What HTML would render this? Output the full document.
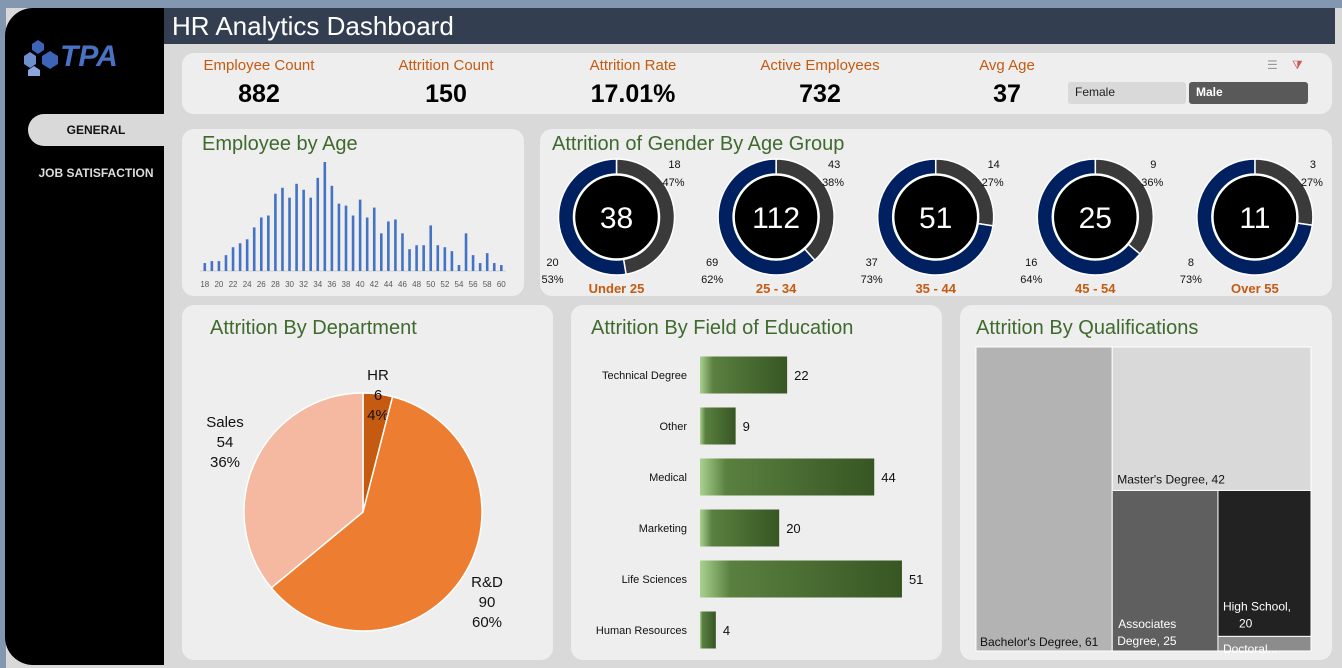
<!DOCTYPE html>
<html><head><meta charset="utf-8"><style>
*{box-sizing:border-box;margin:0;padding:0}
body{width:1342px;height:668px;overflow:hidden;background:#d9d9d9;font-family:"Liberation Sans",sans-serif;position:relative}
.abs{position:absolute}
.panel{position:absolute;background:#eeeeee;border-radius:12px}
.title{position:absolute;color:#3f6a2e;font-size:20px}
.kl{position:absolute;color:#c55a11;font-size:15px;text-align:center;width:170px}
.kv{position:absolute;color:#000;font-size:25px;font-weight:bold;text-align:center;width:170px}
</style></head><body>
<div class="abs" style="left:0;top:0;width:1342px;height:8px;background:#8497b0"></div>
<div class="abs" style="left:0;top:0;width:6px;height:668px;background:#8497b0"></div>
<div class="abs" style="left:5px;top:8px;width:159px;height:657px;background:#000;border-radius:28px 0 0 28px"></div>
<svg class="abs" style="left:20px;top:36px" width="130" height="40">
<polygon points="4,20 10,16 16,20 16,28 10,32 4,28" fill="#6f8fd0"/><polygon points="12,8 18,4 24,8 24,14 18,18 12,14" fill="#3d64b8"/><polygon points="22,20 30,15 38,20 38,28 30,33 22,28" fill="#3d64b8"/><polygon points="8,34 14,30 20,34 20,40 14,44 8,40" fill="#8aa5dd"/>
<text x="40" y="30" font-family="Liberation Sans" font-weight="bold" font-size="30" fill="#4a72c4" font-style="italic">TPA</text></svg>
<div class="abs" style="left:28px;top:114px;width:136px;height:32px;background:#d9d9d9;border-radius:16px 0 0 16px;font-size:12px;font-weight:bold;text-align:center;line-height:32px;color:#111">GENERAL</div>
<div class="abs" style="left:28px;top:166px;width:136px;font-size:12px;font-weight:bold;color:#ddd;text-align:center">JOB SATISFACTION</div>
<div class="abs" style="left:164px;top:8px;width:1171px;height:36px;background:#333f50;color:#fff;font-size:26px;padding-left:8px;line-height:36px">HR Analytics Dashboard</div>

<div class="panel" style="left:182px;top:53px;width:1150px;height:61px"></div>
<div class="kl" style="left:174px;top:57px">Employee Count</div>
<div class="kv" style="left:174px;top:80px">882</div>
<div class="kl" style="left:361px;top:57px">Attrition Count</div>
<div class="kv" style="left:361px;top:80px">150</div>
<div class="kl" style="left:548px;top:57px">Attrition Rate</div>
<div class="kv" style="left:548px;top:80px">17.01%</div>
<div class="kl" style="left:735px;top:57px">Active Employees</div>
<div class="kv" style="left:735px;top:80px">732</div>
<div class="kl" style="left:922px;top:57px">Avg Age</div>
<div class="kv" style="left:922px;top:80px">37</div>
<div class="abs" style="left:1267px;top:58px;font-size:12px;color:#999">☰</div>
<div class="abs" style="left:1292px;top:58px;font-size:12px;color:#c55">⧩</div>
<div class="abs" style="left:1068px;top:82px;width:118px;height:22px;background:#d9d9d9;border-radius:3px;font-size:12px;padding:3px 7px;color:#222">Female</div>
<div class="abs" style="left:1189px;top:82px;width:119px;height:22px;background:#595959;border-radius:3px;font-size:12px;font-weight:bold;padding:3px 7px;color:#fff">Male</div>

<div class="panel" style="left:182px;top:129px;width:342px;height:167px"></div>
<div class="title" style="left:202px;top:133px">Employee by Age</div>
<svg class="abs" id="ageSvg" style="left:182px;top:129px" width="342" height="167"></svg>

<div class="panel" style="left:540px;top:129px;width:792px;height:167px"></div>
<div class="title" style="left:552px;top:133px">Attrition of Gender By Age Group</div>
<svg class="abs" id="donutSvg" style="left:540px;top:129px" width="792" height="167"></svg>

<div class="panel" style="left:182px;top:305px;width:371px;height:355px"></div>
<div class="title" style="left:210px;top:317px">Attrition By Department</div>
<svg class="abs" id="pieSvg" style="left:182px;top:305px" width="371" height="355"></svg>

<div class="panel" style="left:571px;top:305px;width:371px;height:355px"></div>
<div class="title" style="left:591px;top:317px">Attrition By Field of Education</div>
<svg class="abs" id="eduSvg" style="left:571px;top:305px" width="371" height="355">
<defs><linearGradient id="gg" x1="0" x2="1" y1="0" y2="0"><stop offset="0" stop-color="#a9d18e"/><stop offset="0.15" stop-color="#5a8040"/><stop offset="1" stop-color="#375623"/></linearGradient></defs></svg>

<div class="panel" style="left:960px;top:305px;width:372px;height:355px"></div>
<div class="title" style="left:976px;top:317px">Attrition By Qualifications</div>
<svg class="abs" id="treeSvg" style="left:960px;top:305px" width="372" height="355"></svg>

<script>
const NS='http://www.w3.org/2000/svg';
function mk(p,t,a){const e=document.createElementNS(NS,t);for(const k in a)e.setAttribute(k,a[k]);p.appendChild(e);return e;}
// ---- age chart ----
const ages=[18,19,20,21,22,23,24,25,26,27,28,29,30,31,32,33,34,35,36,37,38,39,40,41,42,43,44,45,46,47,48,49,50,51,52,53,54,55,56,57,58,59,60];
const ageCounts=[4,5,5,8,12,14,16,22,27,28,39,42,37,44,41,37,47,55,43,34,33,28,36,27,32,19,25,26,19,11,13,13,23,13,12,10,3,19,8,4,9,4,3];
const ageTicks=[18,20,22,24,26,28,30,32,34,36,38,40,42,44,46,48,50,52,54,56,58,60];
(function(){const s=document.getElementById('ageSvg');
const x=a=>22.8+(a-18)*7.06, y=v=>142-v*(109/55);
mk(s,'line',{x1:18,x2:324,y1:142,y2:142,stroke:'#d0d0d0'});
ages.forEach((a,i)=>{const r=mk(s,'rect',{x:x(a)-1.3,y:y(ageCounts[i]),width:2.6,height:142-y(ageCounts[i]),fill:'#4472c4'});

});
ageTicks.forEach(a=>{const t=mk(s,'text',{x:x(a),y:158,'font-size':8,'text-anchor':'middle',fill:'#595959'});t.textContent=a;

});})();
// ---- donuts ----
const groups=['Under 25','25 - 34','35 - 44','45 - 54','Over 55'];
const femaleVals=[18,43,14,9,3];
const maleVals=[20,69,37,16,8];
(function(){const s=document.getElementById('donutSvg');
groups.forEach((g,i)=>{const cx=76.5+i*159.6, cy=88, R=58, r=43;
const tot=femaleVals[i]+maleVals[i];
const arc=(a0,a1,col)=>{const p=(a,rad)=>[cx+rad*Math.sin(a),cy-rad*Math.cos(a)];const L=(a1-a0)>Math.PI?1:0;
const [x0,y0]=p(a0,R),[x1,y1]=p(a1,R),[x2,y2]=p(a1,r),[x3,y3]=p(a0,r);
return mk(s,'path',{d:`M${x0},${y0}A${R},${R} 0 ${L} 1 ${x1},${y1}L${x2},${y2}A${r},${r} 0 ${L} 0 ${x3},${y3}Z`,fill:col,stroke:'#fff','stroke-width':1.5});};
const fa=femaleVals[i]/tot*2*Math.PI;
const a1=arc(0,fa,'#3a3a3a');
const a2=arc(fa,2*Math.PI,'#002060');
mk(s,'circle',{cx,cy,r:r-1,fill:'#000',stroke:'#fff','stroke-width':1.5});
const c=mk(s,'text',{x:cx,y:cy+11,'text-anchor':'middle','font-size':30,fill:'#fff'});c.textContent=tot;

const fp=Math.round(femaleVals[i]/tot*100), mp=100-fp;
const t1=mk(s,'text',{x:cx+58,y:39,'text-anchor':'middle','font-size':11,fill:'#111'});t1.textContent=femaleVals[i];
const t2=mk(s,'text',{x:cx+58,y:57,'text-anchor':'end','font-size':11,fill:'#111'});t2.textContent=fp+'%';t2.setAttribute('x',cx+68);
const t3=mk(s,'text',{x:cx-64,y:137,'text-anchor':'middle','font-size':11,fill:'#111'});t3.textContent=maleVals[i];
const t4=mk(s,'text',{x:cx-64,y:154,'text-anchor':'middle','font-size':11,fill:'#111'});t4.textContent=mp+'%';
const lb=mk(s,'text',{x:cx,y:164,'text-anchor':'middle','font-size':13,'font-weight':'bold',fill:'#c55a11'});lb.textContent=g;
});})();
// ---- pie ----
const depts=['HR','R&D','Sales'];
const deptVals=[6,90,54];
const deptColors=['#c55a11','#ed7d31','#f4b9a0'];
(function(){const s=document.getElementById('pieSvg');const cx=181,cy=207,R=119;
const tot=deptVals.reduce((a,b)=>a+b,0);let a=0;
const lpos=[[196,75],[305,282],[43,122]];
deptVals.forEach((v,i)=>{const a1=a+v/tot*2*Math.PI;const L=(a1-a)>Math.PI?1:0;
const p=s_=>[cx+R*Math.sin(s_),cy-R*Math.cos(s_)];const [x0,y0]=p(a),[x1,y1]=p(a1);
const sl=mk(s,'path',{d:`M${cx},${cy}L${x0},${y0}A${R},${R} 0 ${L} 1 ${x1},${y1}Z`,fill:deptColors[i],stroke:'#fff','stroke-width':1.5});

const [lx,ly]=lpos[i];[depts[i],v,Math.round(v/tot*100)+'%'].forEach((t,k)=>{const e=mk(s,'text',{x:lx,y:ly+k*20,'text-anchor':'middle','font-size':15,fill:'#111'});e.textContent=t;});
a=a1;});})();
// ---- education ----
const fields=['Technical Degree','Other','Medical','Marketing','Life Sciences','Human Resources'];
const fieldVals=[22,9,44,20,51,4];
(function(){const s=document.getElementById('eduSvg');const x0=129,k=3.96;
fields.forEach((f,i)=>{const cy=70+i*51;
const l=mk(s,'text',{x:116,y:cy+4,'text-anchor':'end','font-size':11,fill:'#111'});l.textContent=f;

const b=mk(s,'rect',{x:x0,y:cy-18.5,width:fieldVals[i]*k,height:37,fill:'url(#gg)'});

const v=mk(s,'text',{x:x0+fieldVals[i]*k+7,y:cy+5,'font-size':13,fill:'#111'});v.textContent=fieldVals[i];});})();
// ---- treemap ----
const quals=["Bachelor's Degree","Master's Degree","Associates Degree","High School","Doctoral"];
const qualVals=[61,42,25,20,2];
(function(){const s=document.getElementById('treeSvg');const X=16,Y=42,W=335,H=304;
const tot=qualVals.reduce((a,b)=>a+b,0);
const box=(x,y,w,h,col,i)=>{const r=mk(s,'rect',{x,y,width:w,height:h,fill:col,stroke:'#fff','stroke-width':1});
return r;};
const w0=W*qualVals[0]/tot;box(X,Y,w0,H,'#b3b3b3');
const rest=tot-qualVals[0];const rx=X+w0,rw=W-w0;
const h1=H*qualVals[1]/rest;box(rx,Y,rw,h1,'#d9d9d9');
const br=rest-qualVals[1];const by=Y+h1,bh=H-h1;
const w2=rw*qualVals[2]/br;box(rx,by,w2,bh,'#5f5f5f');
const cw=rw-w2,cx=rx+w2;const h3=bh*qualVals[3]/(qualVals[3]+qualVals[4]);
box(cx,by,cw,h3,'#222');box(cx,by+h3,cw,bh-h3,'#8c8c8c');
const T=(x,y,t,c)=>{const e=mk(s,'text',{x,y,'font-size':12,fill:c});e.textContent=t;};
T(X+4,Y+H-5,quals[0]+', '+qualVals[0],'#111');
T(rx+5,Y+h1-7,quals[1]+', '+qualVals[1],'#111');
T(rx+6,by+bh-23,'Associates','#fff');T(rx+5,by+bh-6,'Degree, '+qualVals[2],'#fff');
T(cx+5,by+h3-26,quals[3]+',','#fff');T(cx+21,by+h3-9,qualVals[3],'#fff');
T(cx+5,Y+H+2,'Doctoral...','#fff');})();
</script>
</body></html>
